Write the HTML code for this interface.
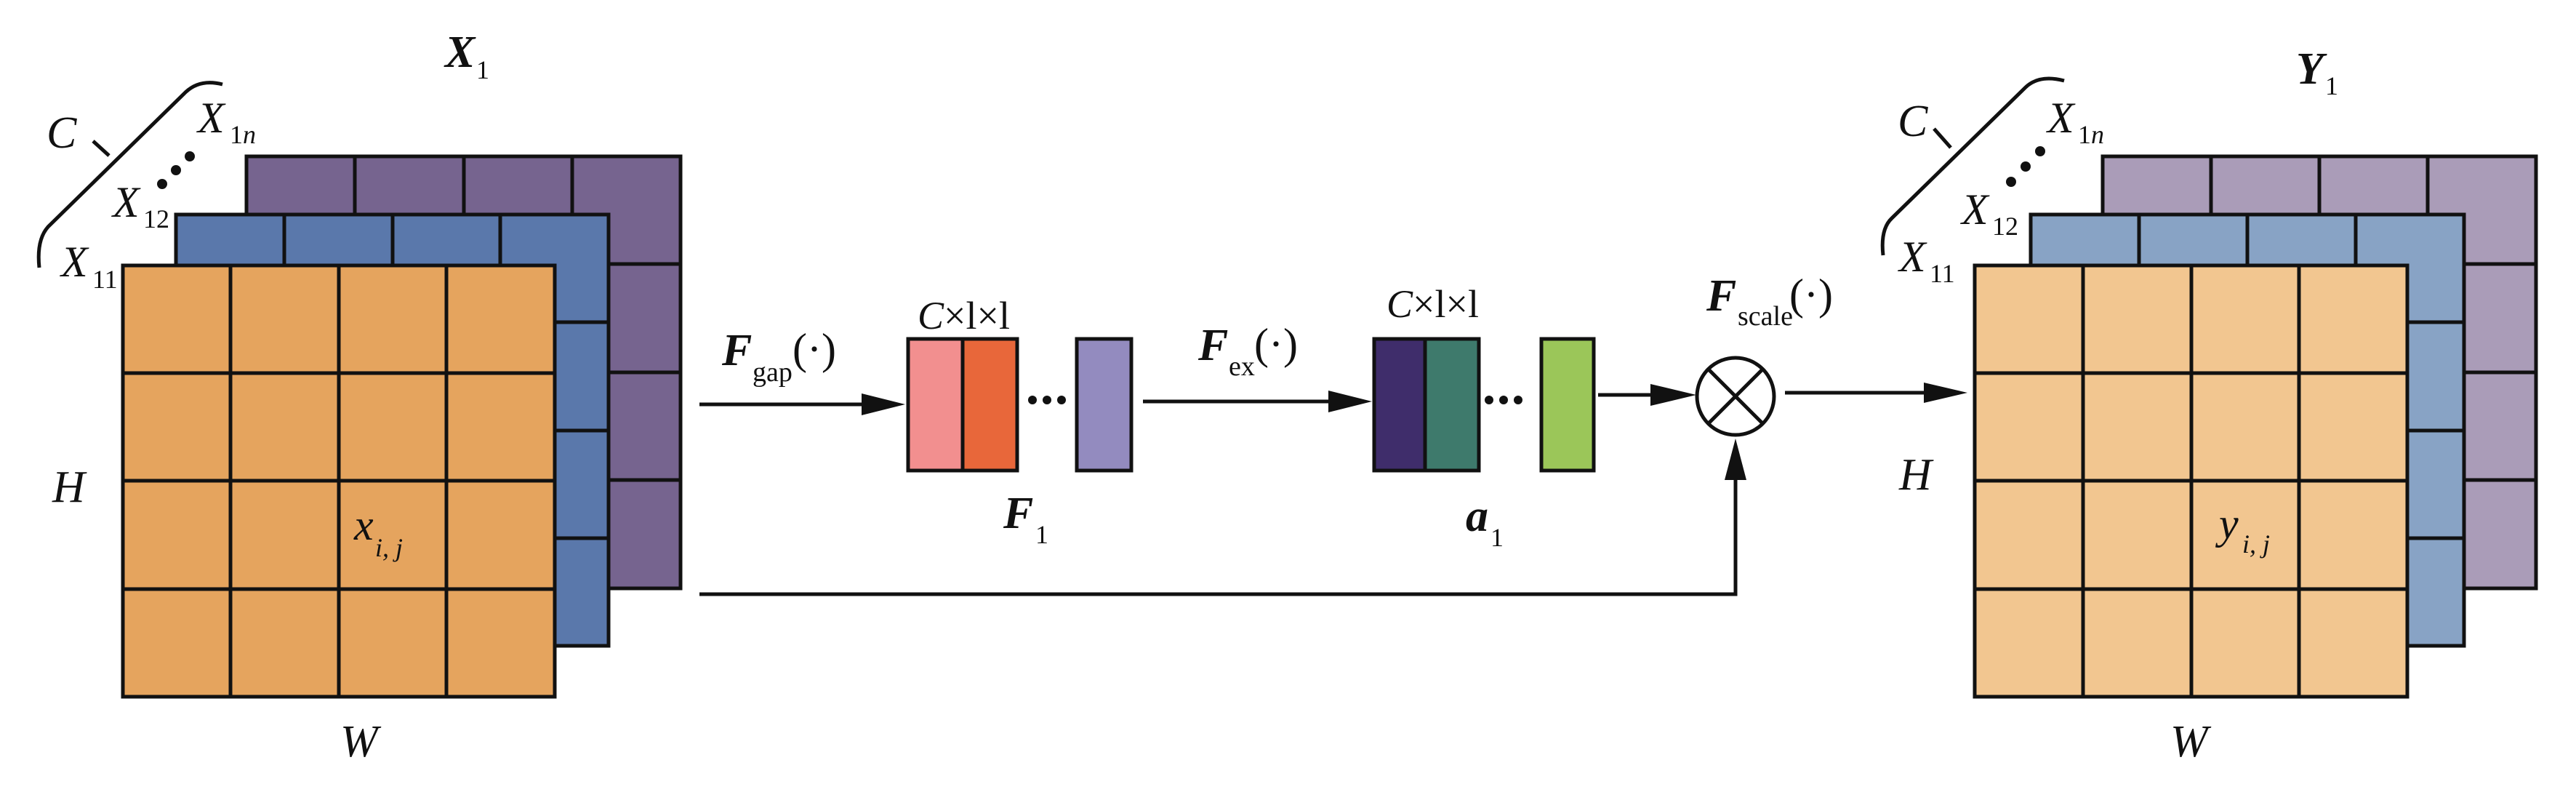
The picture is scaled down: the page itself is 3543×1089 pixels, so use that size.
<!DOCTYPE html>
<html><head><meta charset="utf-8"><style>
html,body{margin:0;padding:0;background:#fff;}
svg{display:block;}
svg text{font-family:"Liberation Serif","DejaVu Serif",serif !important;fill:#111;}
.it{font-style:italic;}
.bi{font-style:italic;font-weight:bold;}
</style></head><body>
<svg width="3543" height="1089" viewBox="0 0 3543 1089" xmlns="http://www.w3.org/2000/svg" font-family="Liberation Serif, DejaVu Serif, serif">
<g stroke="#111" stroke-width="5" stroke-linecap="square">
<rect x="339" y="215" width="597" height="594" fill="#76648f"/>
<path d="M488 215V809M638 215V809M787 215V809M339 363H936M339 512H936M339 660H936" fill="none"/>
<rect x="242" y="295" width="595" height="593" fill="#5a78ab"/>
<path d="M391 295V888M540 295V888M688 295V888M242 443H837M242 592H837M242 740H837" fill="none"/>
<rect x="169" y="365" width="594" height="593" fill="#e5a45e"/>
<path d="M317 365V958M466 365V958M614 365V958M169 513H763M169 661H763M169 810H763" fill="none"/>
<rect x="2892" y="215" width="596" height="594" fill="#aa9cb8"/>
<path d="M3041 215V809M3190 215V809M3339 215V809M2892 363H3488M2892 512H3488M2892 660H3488" fill="none"/>
<rect x="2793" y="295" width="596" height="593" fill="#88a3c5"/>
<path d="M2942 295V888M3091 295V888M3240 295V888M2793 443H3389M2793 592H3389M2793 740H3389" fill="none"/>
<rect x="2716" y="365" width="595" height="593" fill="#f2c690"/>
<path d="M2865 365V958M3014 365V958M3162 365V958M2716 513H3311M2716 661H3311M2716 810H3311" fill="none"/>
<rect x="1249" y="466" width="75" height="181" fill="#f28f8f"/>
<rect x="1324" y="466" width="75" height="181" fill="#e8673a"/>
<rect x="1481" y="466" width="75" height="181" fill="#938bbf"/>
<rect x="1890" y="466" width="70" height="181" fill="#3f2d6b"/>
<rect x="1960" y="466" width="74" height="181" fill="#3e7a6c"/>
<rect x="2120" y="466" width="72" height="181" fill="#9bc659"/>
</g>
<g fill="none" stroke="#111" stroke-width="5">
<path d="M54 368 Q50 330 66 312 L255 127 Q275 108 306 116"/>
<path d="M128 194 L150 214"/>
<path d="M2590 351 Q2586 315 2602 300 L2786 120 Q2805 102 2839 111"/>
<path d="M2660 177 L2683 203"/>
</g>
<g fill="#111">
<circle cx="223" cy="253" r="7"/><circle cx="242" cy="234" r="7"/><circle cx="261" cy="215" r="7"/>
<circle cx="2766" cy="250" r="7"/><circle cx="2786" cy="229" r="7"/><circle cx="2806" cy="208" r="7"/>
<circle cx="1420" cy="550" r="6"/><circle cx="1440" cy="550" r="6"/><circle cx="1460" cy="550" r="6"/>
<circle cx="2048" cy="550" r="6"/><circle cx="2068" cy="550" r="6"/><circle cx="2088" cy="550" r="6"/>
</g>
<g stroke="#111" stroke-width="5" fill="none">
<path d="M962 556H1190"/>
<path d="M1572 552H1832"/>
<path d="M2198 543H2275"/>
<path d="M2455 540H2650"/>
<path d="M962 817H2387V655"/>
<circle cx="2387" cy="545" r="53"/>
<path d="M2350 508L2424 582M2424 508L2350 582"/>
</g>
<g fill="#111">
<path d="M1185 541L1245 556L1185 571Z"/>
<path d="M1827 537L1887 552L1827 567Z"/>
<path d="M2270 528L2333 543L2270 558Z"/>
<path d="M2646 526L2706 540L2646 554Z"/>
<path d="M2372 660L2387 603L2402 660Z"/>
</g>
<text x="612" y="92" class="bi" font-size="62">X</text><text x="655" y="108" font-size="36">1</text>
<text x="64" y="203" class="it" font-size="62">C</text>
<text x="272" y="182" class="it" font-size="60">X</text><text x="316" y="197" font-size="36">1<tspan class="it">n</tspan></text>
<text x="155" y="298" class="it" font-size="60">X</text><text x="197" y="313" font-size="36">12</text>
<text x="84" y="380" class="it" font-size="60">X</text><text x="127" y="396" font-size="36">11</text>
<text x="72" y="690" class="it" font-size="62">H</text>
<text x="468" y="1040" class="it" font-size="62">W</text>
<text x="487" y="742" class="it" font-size="60">x</text><text x="516" y="765" class="it" font-size="36">i, j</text>
<text x="3158" y="115" class="bi" font-size="62">Y</text><text x="3198" y="130" font-size="36">1</text>
<text x="2610" y="187" class="it" font-size="62">C</text>
<text x="2816" y="182" class="it" font-size="60">X</text><text x="2858" y="197" font-size="36">1<tspan class="it">n</tspan></text>
<text x="2698" y="308" class="it" font-size="60">X</text><text x="2740" y="323" font-size="36">12</text>
<text x="2612" y="373" class="it" font-size="60">X</text><text x="2654" y="388" font-size="36">11</text>
<text x="2612" y="673" class="it" font-size="62">H</text>
<text x="2985" y="1040" class="it" font-size="62">W</text>
<text x="3052" y="740" class="it" font-size="60">y</text><text x="3084" y="760" class="it" font-size="36">i, j</text>
<text x="993" y="502" class="bi" font-size="62">F</text><text x="1035" y="524" font-size="38">gap</text><text x="1090" y="500" font-size="60">(·)</text>
<text x="1262" y="452" font-size="54"><tspan class="it">C</tspan>×l×l</text>
<text x="1648" y="495" class="bi" font-size="62">F</text><text x="1690" y="516" font-size="38">ex</text><text x="1725" y="493" font-size="60">(·)</text>
<text x="1907" y="436" font-size="54"><tspan class="it">C</tspan>×l×l</text>
<text x="2347" y="427" class="bi" font-size="62">F</text><text x="2390" y="447" font-size="38">scale</text><text x="2461" y="425" font-size="60">(·)</text>
<text x="1380" y="726" class="bi" font-size="62">F</text><text x="1424" y="747" font-size="36">1</text>
<text x="2016" y="730" class="bi" font-size="62">a</text><text x="2050" y="751" font-size="36">1</text>
</svg>
</body></html>
